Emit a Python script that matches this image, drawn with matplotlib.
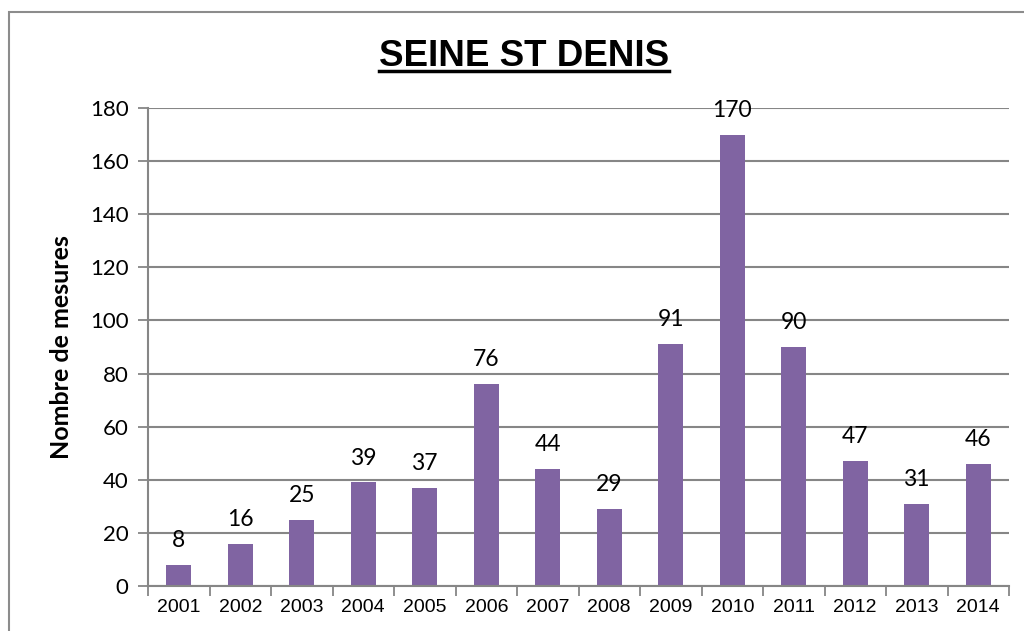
import matplotlib.pyplot as plt
from matplotlib.patches import Rectangle

years = ['2001', '2002', '2003', '2004', '2005', '2006', '2007',
         '2008', '2009', '2010', '2011', '2012', '2013', '2014']
counts = [8, 16, 25, 39, 37, 76, 44, 29, 91, 170, 90, 47, 31, 46]

title = "SEINE ST DENIS"
ylabel = "Nombre de mesures"

bar_color = '#8064A2'
grid_color = '#868686'

fig = plt.figure(figsize=(10.24, 6.31), dpi=100)
axes = fig.add_axes([148 / 1024, 1 - 586 / 631, (1009 - 148) / 1024, (586 - 108) / 631])

# Outer chart border (right and bottom edges fall outside the picture)
fig.patches.append(Rectangle((9 / 1024, -0.05), 1.1, 1 - 12 / 631 + 0.05,
                             transform=fig.transFigure, fill=False,
                             edgecolor='#8c8c8c', linewidth=1.5))

positions = range(len(years))
bars = axes.bar(positions, counts, width=0.41, color=bar_color, zorder=2)

for x, v in zip(positions, counts):
    axes.annotate(f'{v}', (x, v), xytext=(0, 10), textcoords='offset points',
                  ha='center', va='bottom', fontsize=16.5, family='Lato', zorder=3)

axes.set_xlim(-0.5, len(years) - 0.5)
axes.set_ylim(0, 180)
axes.set_yticks(range(0, 181, 20))
axes.set_yticklabels([str(v) for v in range(0, 181, 20)], family='Lato', fontsize=16)
axes.set_xticks(positions)
axes.set_xticklabels(years, family='Liberation Sans', fontsize=14)
axes.set_xticks([p - 0.5 for p in range(len(years) + 1)], minor=True)

axes.tick_params(axis='x', which='major', length=0, pad=9)
axes.tick_params(axis='x', which='minor', length=7, color=grid_color, width=1.3)
axes.tick_params(axis='y', length=7, color=grid_color, width=1.3, pad=7)

axes.yaxis.grid(True, color=grid_color, linewidth=1.5, zorder=0)
axes.set_axisbelow(True)
for side in ['top', 'right']:
    axes.spines[side].set_visible(False)
for side in ['left', 'bottom']:
    axes.spines[side].set_color(grid_color)
    axes.spines[side].set_linewidth(1.5)

axes.set_ylabel(ylabel, family='Lato', fontweight='bold', fontsize=18, labelpad=12)

title_text = fig.text(524 / 1024, 1 - 56 / 631, title, ha='center', va='center',
                      family='Liberation Sans', fontweight='bold', fontsize=26.5)

# underline the title to the width of its text
fig.canvas.draw()
bb = title_text.get_window_extent().transformed(fig.transFigure.inverted())
fig.add_artist(plt.Line2D([bb.x0, bb.x1], [1 - 71 / 631, 1 - 71 / 631],
                          color='black', linewidth=2.5))

plt.savefig('out.png', dpi=100)
